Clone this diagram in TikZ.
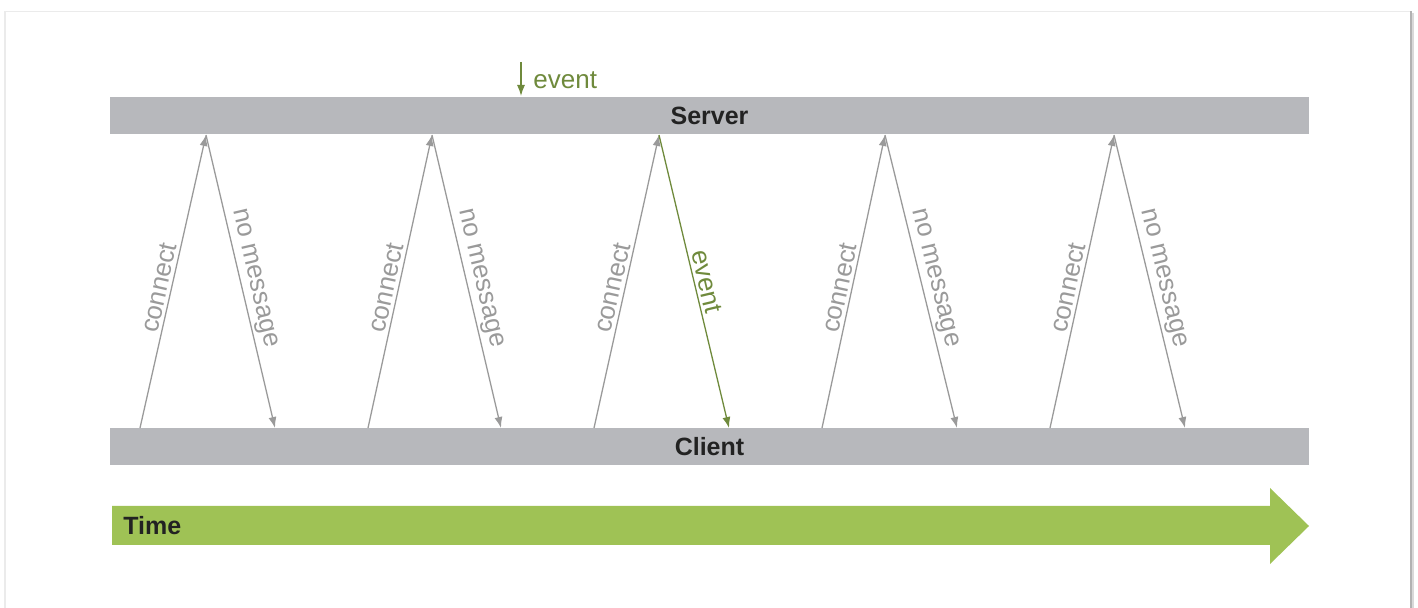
\documentclass[tikz,border=0pt]{standalone}
\usepackage{fontspec}
\setmainfont{Liberation Sans}
\usetikzlibrary{arrows.meta}
\definecolor{bargray}{HTML}{B7B8BC}
\definecolor{linegray}{HTML}{9A9A9A}
\definecolor{evgreen}{HTML}{6F8A3C}
\definecolor{timegreen}{HTML}{9FC255}
\definecolor{darktext}{HTML}{222222}
\tikzset{
  bar/.style={fill=bargray, draw=none, minimum width=599.5pt, minimum height=18.5pt, inner sep=0pt, font=\bfseries\fontsize{12.5}{15}\selectfont, text=darktext},
  msg/.style={draw=linegray, line width=0.65pt, -{Latex[length=5.5pt,width=4pt]}},
  evmsg/.style={draw=evgreen, line width=0.65pt, -{Latex[length=5.5pt,width=4pt]}},
  lbl/.style={sloped, above, inner sep=1.5pt, font=\fontsize{13}{15}\selectfont, text=linegray},
  evlbl/.style={sloped, above, inner sep=1.5pt, font=\fontsize{13}{15}\selectfont, text=evgreen},
}
\begin{document}
\begin{tikzpicture}[x=0.5pt,y=-0.5pt]
\useasboundingbox (0,0) rectangle (1418,608);
% frame
\draw[draw=black!8, line width=0.8pt] (5,610) -- (5,11.5) -- (1411,11.5);
\draw[draw=black!30, line width=1pt] (1411,11.5) -- (1411,610);
\draw[draw=black!15, line width=1pt] (1413,13) -- (1413,610);
% bars
\node[bar] (server) at (709.5,115.5) {Server};
\node[bar] (client) at (709.5,446.5) {Client};
% time arrow
\fill[timegreen] (112,506) -- (1270,506) -- (1270,488) -- (1309,526) -- (1270,564) -- (1270,545) -- (112,545) -- cycle;
\node[anchor=west, inner sep=0pt, font=\bfseries\fontsize{12.5}{15}\selectfont, text=darktext] (time) at (123,526) {Time};
% top event
\coordinate (evtop) at (521,62);
\coordinate (evbot) at (521,96);
\draw[evmsg] (evtop) -- (evbot);
\node[anchor=west, inner sep=0pt, font=\fontsize{13}{15}\selectfont, text=evgreen] (evtxt) at (533,80.5) {event};
% exchanges
\foreach \i/\a/\b/\c in {1/140/206/275, 2/368/432/501, 3/594/659/729, 4/822/885/957, 5/1050/1114/1185} {
  \coordinate (c\i) at (\a,428);
  \coordinate (s\i) at (\b,135);
  \coordinate (d\i) at (\c,428);
}
\foreach \i in {1,...,5} {
  \draw[msg] (c\i) -- node[lbl, pos=0.47] {connect} (s\i);
}
\foreach \i in {1,2,4,5} {
  \draw[msg] (s\i) -- node[lbl, pos=0.5] {no message} (d\i);
}
\draw[evmsg] (s3) -- node[evlbl, pos=0.51] {event} (d3);
\end{tikzpicture}
\end{document}
